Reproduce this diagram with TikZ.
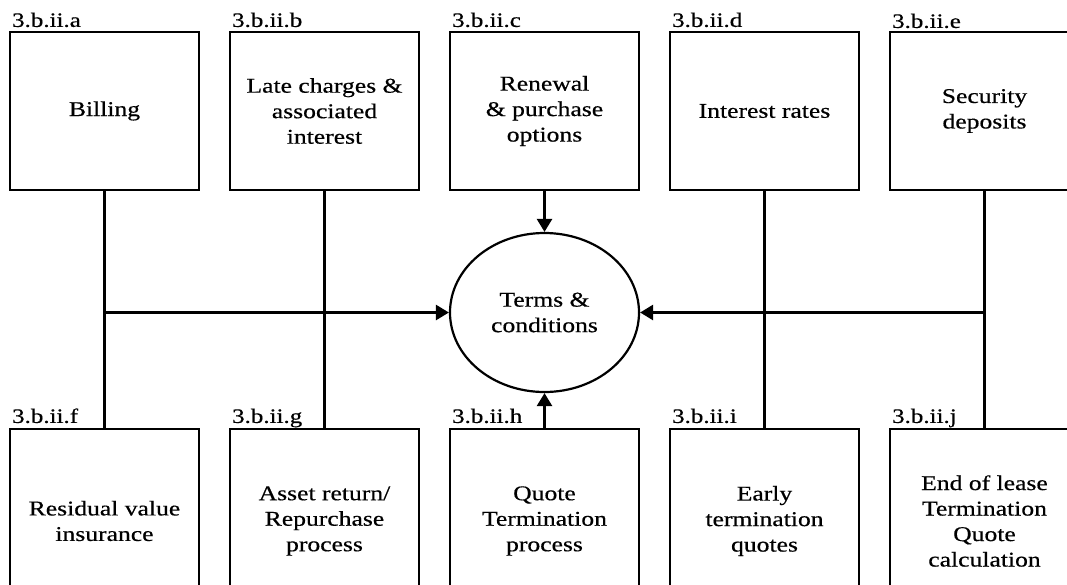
\documentclass[tikz,border=0pt]{standalone}
\usepackage{fontspec}
\setmainfont{Liberation Serif}[FakeStretch=1.22,FakeBold=0.5]
\usetikzlibrary{shapes.geometric,arrows.meta}

\tikzset{
  txt/.style={font=\fontsize{21}{25.5}\selectfont, align=center},
  boxtop/.style={txt, draw, line width=2.2pt, rectangle, inner sep=0pt,
    minimum width=189pt, minimum height=158pt},
  boxbot/.style={txt, draw, line width=2.2pt, rectangle, inner sep=0pt,
    minimum width=189pt, minimum height=184pt},
  hub/.style={txt, draw, line width=2.2pt, ellipse, inner sep=0pt,
    minimum width=189pt, minimum height=159pt},
  tag/.style={font=\fontsize{20.5}{22}\selectfont, anchor=base west, inner sep=0pt},
  link/.style={line width=2.6pt},
  arr/.style={line width=2.6pt, -{Triangle[length=13pt,width=15pt]}}
}

\begin{document}
\begin{tikzpicture}[x=1pt,y=-1pt]
\useasboundingbox (0,0) rectangle (1067,584);

% upper row of boxes
\node[boxtop] (a) at (104.5,111) {Billing};
\node[boxtop] (b) at (324.5,111) {Late charges \&\\associated\\interest};
\node[boxtop] (c) at (544.5,111) {Renewal\\\& purchase\\options};
\node[boxtop] (d) at (764.5,111) {Interest rates};
\node[boxtop] (e) at (984.5,111) {Security\\deposits};

% lower row of boxes
\node[boxbot] (f) at (104.5,521) {Residual value\\insurance};
\node[boxbot] (g) at (324.5,521) {Asset return/\\Repurchase\\process};
\node[boxbot] (h) at (544.5,521) {Quote\\Termination\\process};
\node[boxbot] (i) at (764.5,521) {Early\\termination\\quotes};
\node[boxbot] (j) at (984.5,521) {End of lease\\Termination\\Quote\\calculation};

% central ellipse
\node[hub] (tc) at (544.5,312.5) {Terms \&\\conditions};

% reference tags
\node[tag] (ta) at ([shift={(3,-4)}]a.north west) {3.b.ii.a};
\node[tag] (tb) at ([shift={(3,-4)}]b.north west) {3.b.ii.b};
\node[tag] (tcl) at ([shift={(3,-4)}]c.north west) {3.b.ii.c};
\node[tag] (td) at ([shift={(3,-4)}]d.north west) {3.b.ii.d};
\node[tag] (te) at ([shift={(3,-3)}]e.north west) {3.b.ii.e};
\node[tag] (tf) at ([shift={(3,-5)}]f.north west) {3.b.ii.f};
\node[tag] (tg) at ([shift={(3,-5)}]g.north west) {3.b.ii.g};
\node[tag] (th) at ([shift={(3,-5)}]h.north west) {3.b.ii.h};
\node[tag] (ti) at ([shift={(3,-5)}]i.north west) {3.b.ii.i};
\node[tag] (tj) at ([shift={(3,-5)}]j.north west) {3.b.ii.j};

% vertical trunks
\draw[link] (a.south) -- (f.north);
\draw[link] (b.south) -- (g.north);
\draw[link] (d.south) -- (i.north);
\draw[link] (e.south) -- (j.north);

% arrows into the ellipse
\draw[arr] (c.south) -- (tc.north);
\draw[arr] (h.north) -- (tc.south);
\draw[arr] (a.south |- tc.west) -- (tc.west);
\draw[arr] (e.south |- tc.east) -- (tc.east);
\end{tikzpicture}
\end{document}
